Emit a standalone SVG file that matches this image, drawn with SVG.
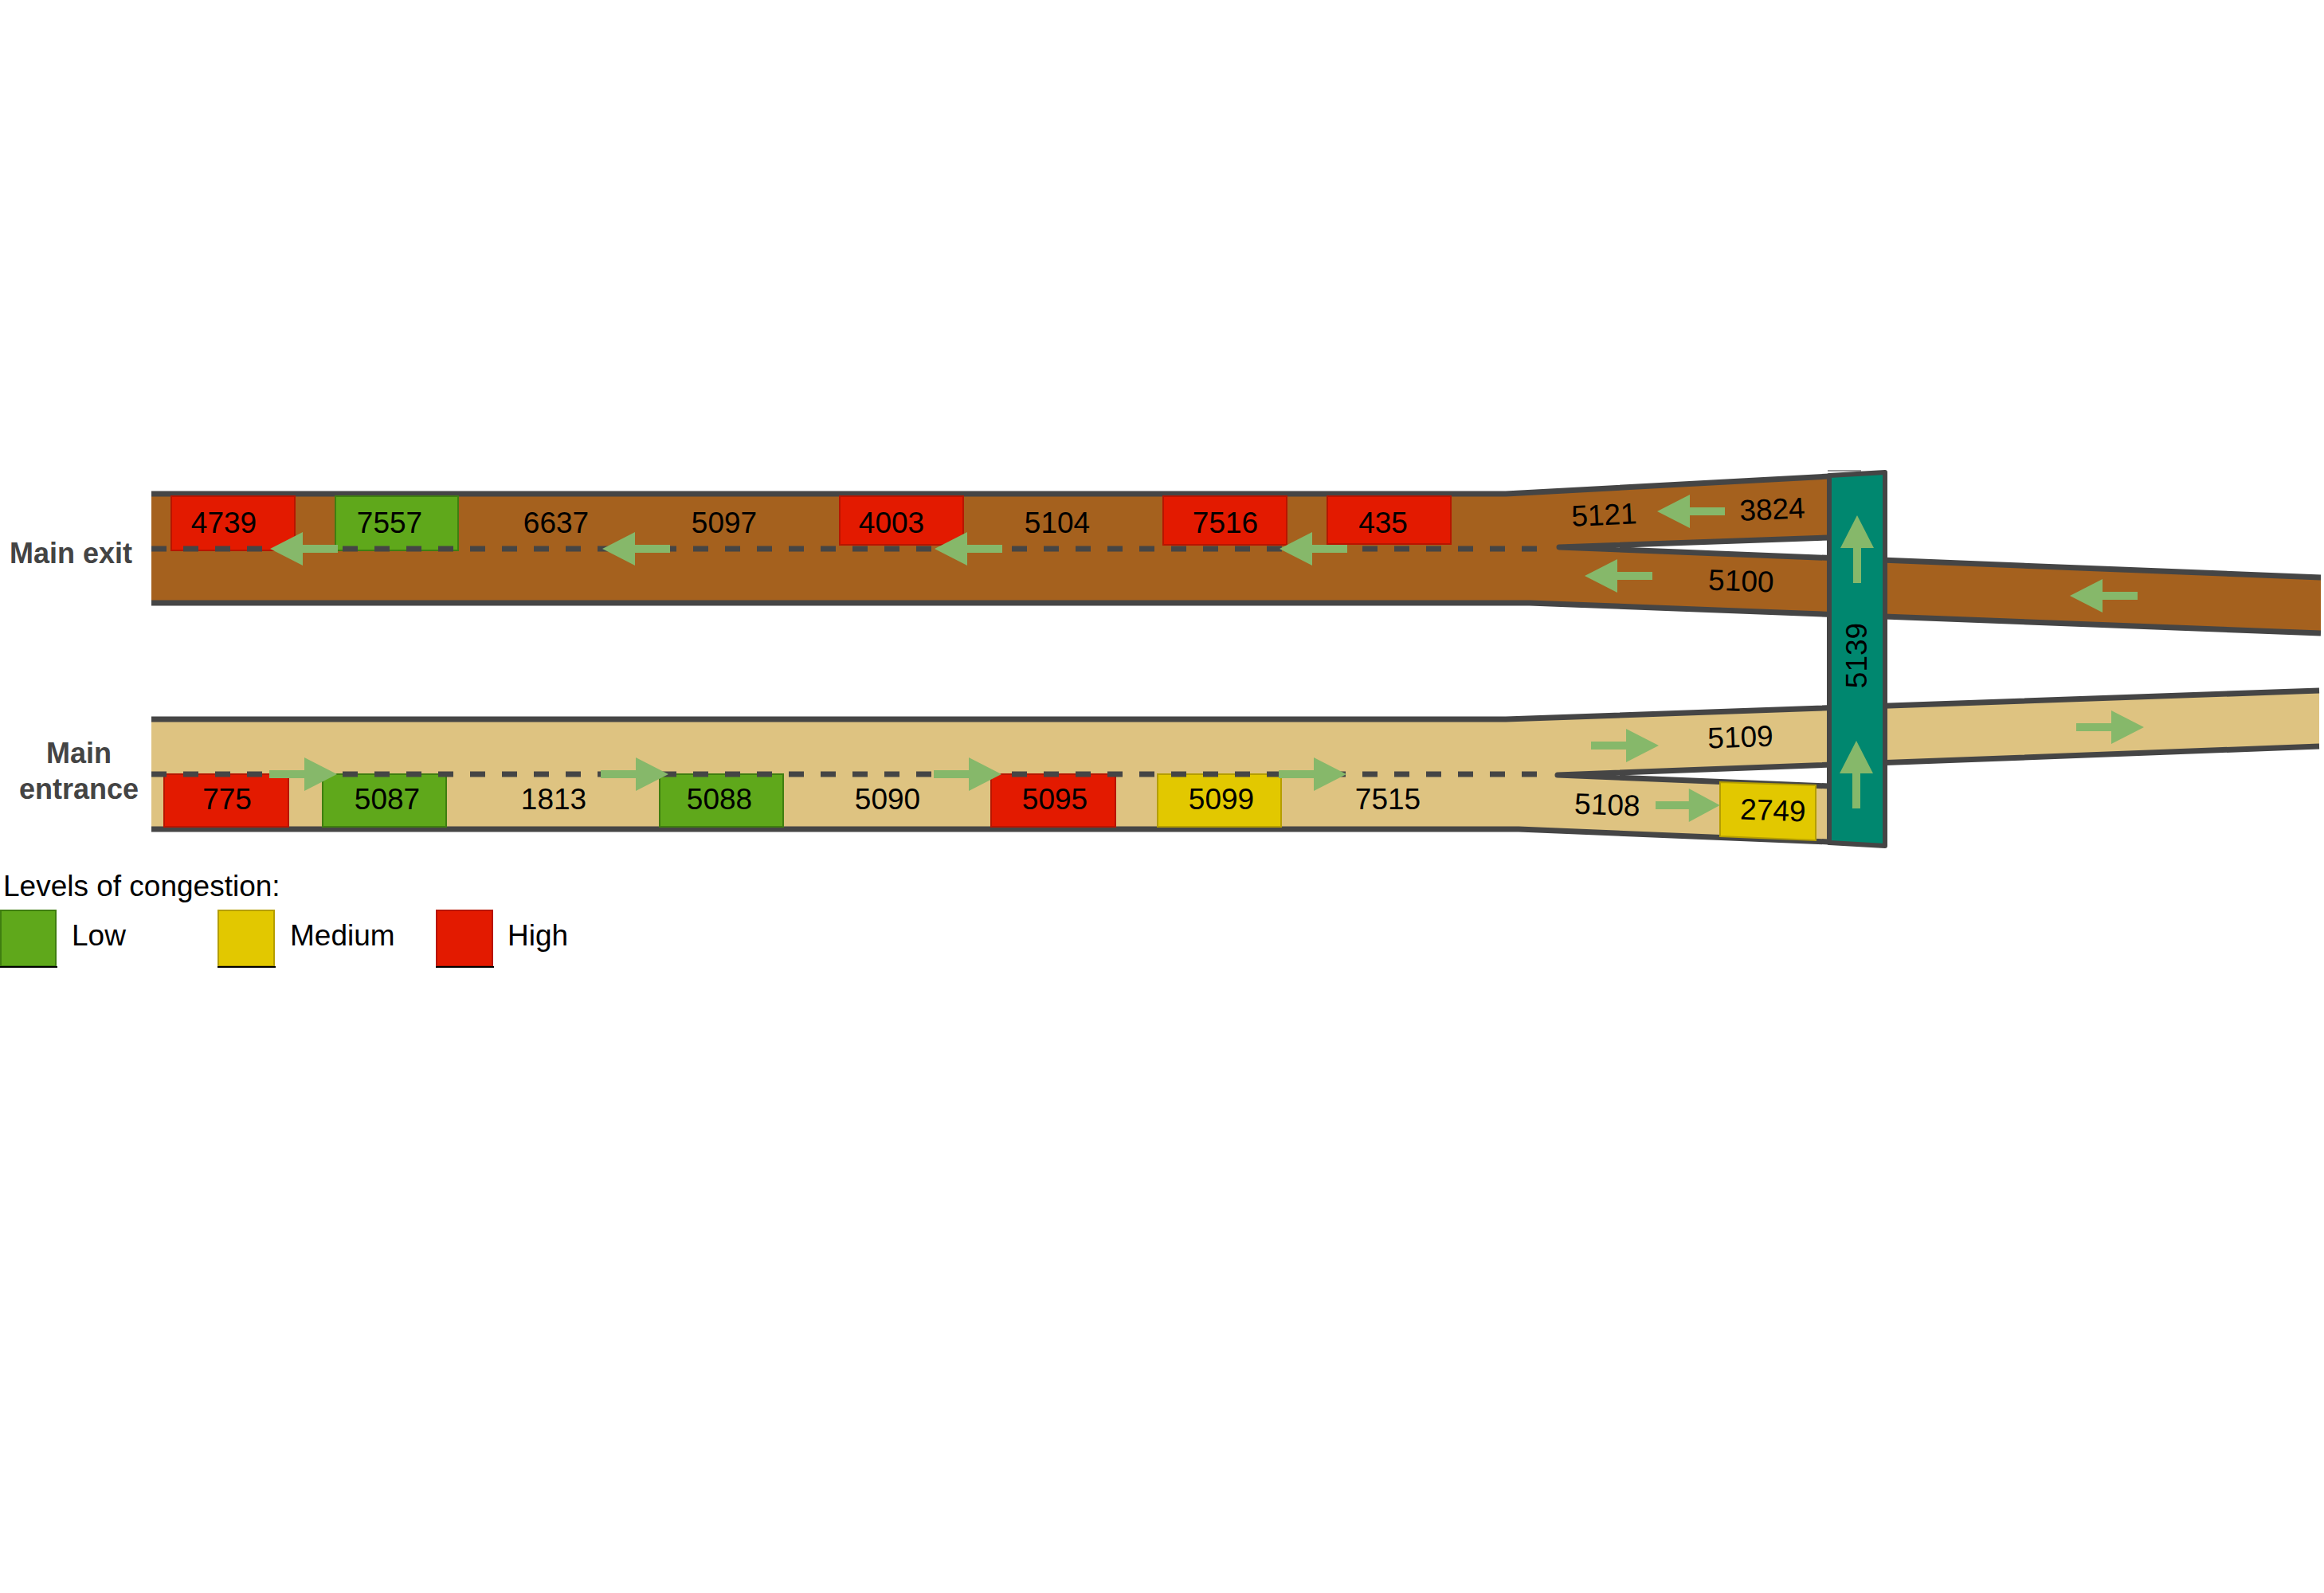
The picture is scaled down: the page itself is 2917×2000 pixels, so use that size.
<svg xmlns="http://www.w3.org/2000/svg" xmlns:xlink="http://www.w3.org/1999/xlink" width="2917" height="2000" viewBox="0 0 2917 2000">
<style>
.border{fill:none;stroke:#454545;stroke-width:7;stroke-linejoin:round}
.dash{fill:none;stroke:#454545;stroke-width:7;stroke-dasharray:19 21}
.num{font-family:"Liberation Sans",Arial,sans-serif;font-size:37px;fill:#000;text-anchor:middle}
.lbl{font-family:"Liberation Sans",Arial,sans-serif;font-size:36px;font-weight:bold;fill:#444;text-anchor:middle}
.leg{font-family:"Liberation Sans",Arial,sans-serif;font-size:37px;fill:#000}
.red{fill:#E31A00;stroke:#B81500;stroke-width:2}
.grn{fill:#5FA81B;stroke:#3F7E10;stroke-width:2}
.yel{fill:#E2C800;stroke:#B59E00;stroke-width:2}
.arr{fill:#86B86A}
</style>
<defs>
<path id="ar" class="arr" d="M0,-5 L44,-5 L44,-21 L85,0 L44,21 L44,5 L0,5 Z"/>
</defs>
<rect width="2917" height="2000" fill="#fff"/>

<g id="main-exit-road">
<path d="M190,620 L1890,620 L2296,598 L2296,675 L1957,687 L2913,725 L2913,795 L1920,757 L190,757 Z" fill="#A5611E"/>
<polyline class="border" points="190,620 1890,620 2296,598"/>
<polyline class="border" points="2296,675 1957,687 2913,725"/>
<polyline class="border" points="190,757 1920,757 2913,795"/>
</g>

<g id="main-entrance-road">
<path d="M190,903 L1890,903 L2911,867 L2911,937 L1955,973 L2296,987 L2296,1057 L1906,1041 L190,1041 Z" fill="#DEC381"/>
<polyline class="border" points="190,903 1890,903 2911,867"/>
<polyline class="border" points="2296,987 1955,973 2911,937"/>
<polyline class="border" points="190,1041 1906,1041 2296,1057"/>
</g>

<g id="exit-segments">
<rect class="red" x="215" y="623" width="155" height="68"/>
<rect class="grn" x="421" y="623" width="154" height="68"/>
<rect class="red" x="1054" y="623" width="155" height="61"/>
<rect class="red" x="1460" y="623" width="155" height="61"/>
<rect class="red" x="1666" y="623" width="155" height="60"/>
</g>

<g id="entrance-segments">
<rect class="red" x="206" y="972" width="156" height="66"/>
<rect class="grn" x="405" y="972" width="155" height="66"/>
<rect class="grn" x="828" y="972" width="155" height="66"/>
<rect class="red" x="1244" y="972" width="156" height="66"/>
<rect class="yel" x="1453" y="972" width="155" height="66"/>
<polygon class="yel" points="2159,982 2279,986 2279,1055 2159,1050"/>
</g>

<g id="connectors">
<line class="dash" x1="190" y1="689" x2="1940" y2="689"/>
<line class="dash" x1="190" y1="972" x2="1938" y2="972"/>
<use xlink:href="#ar" transform="translate(424,689) scale(-1,1)"/>
<use xlink:href="#ar" transform="translate(841,689) scale(-1,1)"/>
<use xlink:href="#ar" transform="translate(1258,689) scale(-1,1)"/>
<use xlink:href="#ar" transform="translate(1691,689) scale(-1,1)"/>
<use xlink:href="#ar" transform="translate(2165,642) scale(-1,1)"/>
<use xlink:href="#ar" transform="translate(2074,723) scale(-1,1)"/>
<use xlink:href="#ar" transform="translate(2683,748) scale(-1,1)"/>
<use xlink:href="#ar" transform="translate(338,972)"/>
<use xlink:href="#ar" transform="translate(754,972)"/>
<use xlink:href="#ar" transform="translate(1172,972)"/>
<use xlink:href="#ar" transform="translate(1605,972)"/>
<use xlink:href="#ar" transform="translate(1997,936)"/>
<use xlink:href="#ar" transform="translate(2606,913)"/>
<use xlink:href="#ar" transform="translate(2078,1011) scale(0.95,1)"/>
</g>

<g id="bar-5139">
<line x1="2294" y1="591" x2="2336" y2="591" stroke="#999" stroke-width="2"/>
<polygon points="2296,597 2366,593 2366,1062 2296,1058" fill="#00876F" stroke="#454545" stroke-width="6" stroke-linejoin="round"/>
<use xlink:href="#ar" transform="translate(2331,732) rotate(-90)"/>
<use xlink:href="#ar" transform="translate(2330,1015) rotate(-90)"/>
<text class="num" transform="translate(2343,823) rotate(-90)">5139</text>
</g>

<g id="exit-labels">
<text class="num" x="281" y="669">4739</text>
<text class="num" x="489" y="669">7557</text>
<text class="num" x="698" y="669">6637</text>
<text class="num" x="909" y="669">5097</text>
<text class="num" x="1119" y="669">4003</text>
<text class="num" x="1327" y="669">5104</text>
<text class="num" x="1538" y="669">7516</text>
<text class="num" x="1736" y="669">435</text>
<text class="num" transform="translate(2014,659) rotate(-2.5)">5121</text>
<text class="num" transform="translate(2225,652) rotate(-2.5)">3824</text>
<text class="num" transform="translate(2185,742) rotate(2)">5100</text>
</g>

<g id="entrance-labels">
<text class="num" x="285" y="1016">775</text>
<text class="num" x="486" y="1016">5087</text>
<text class="num" x="695" y="1016">1813</text>
<text class="num" x="903" y="1016">5088</text>
<text class="num" x="1114" y="1016">5090</text>
<text class="num" x="1324" y="1016">5095</text>
<text class="num" x="1533" y="1016">5099</text>
<text class="num" x="1742" y="1016">7515</text>
<text class="num" transform="translate(2185,938) rotate(-2)">5109</text>
<text class="num" transform="translate(2017,1023) rotate(2)">5108</text>
<text class="num" transform="translate(2225,1030) rotate(2)">2749</text>
</g>

<g id="road-names">
<text class="lbl" x="89" y="707">Main exit</text>
<text class="lbl" x="99" y="958">Main</text>
<text class="lbl" x="99" y="1003">entrance</text>
</g>

<g id="legend">
<text class="leg" x="4" y="1125">Levels of congestion:</text>
<rect class="grn" x="1" y="1143" width="69" height="70"/>
<rect class="yel" x="274" y="1143" width="70" height="70"/>
<rect class="red" x="548" y="1143" width="70" height="70"/>
<line x1="0" y1="1214" x2="72" y2="1214" stroke="#000" stroke-width="2"/>
<line x1="273" y1="1214" x2="346" y2="1214" stroke="#000" stroke-width="2"/>
<line x1="547" y1="1214" x2="620" y2="1214" stroke="#000" stroke-width="2"/>
<text class="leg" x="90" y="1187">Low</text>
<text class="leg" x="364" y="1187">Medium</text>
<text class="leg" x="637" y="1187">High</text>
</g>
</svg>
